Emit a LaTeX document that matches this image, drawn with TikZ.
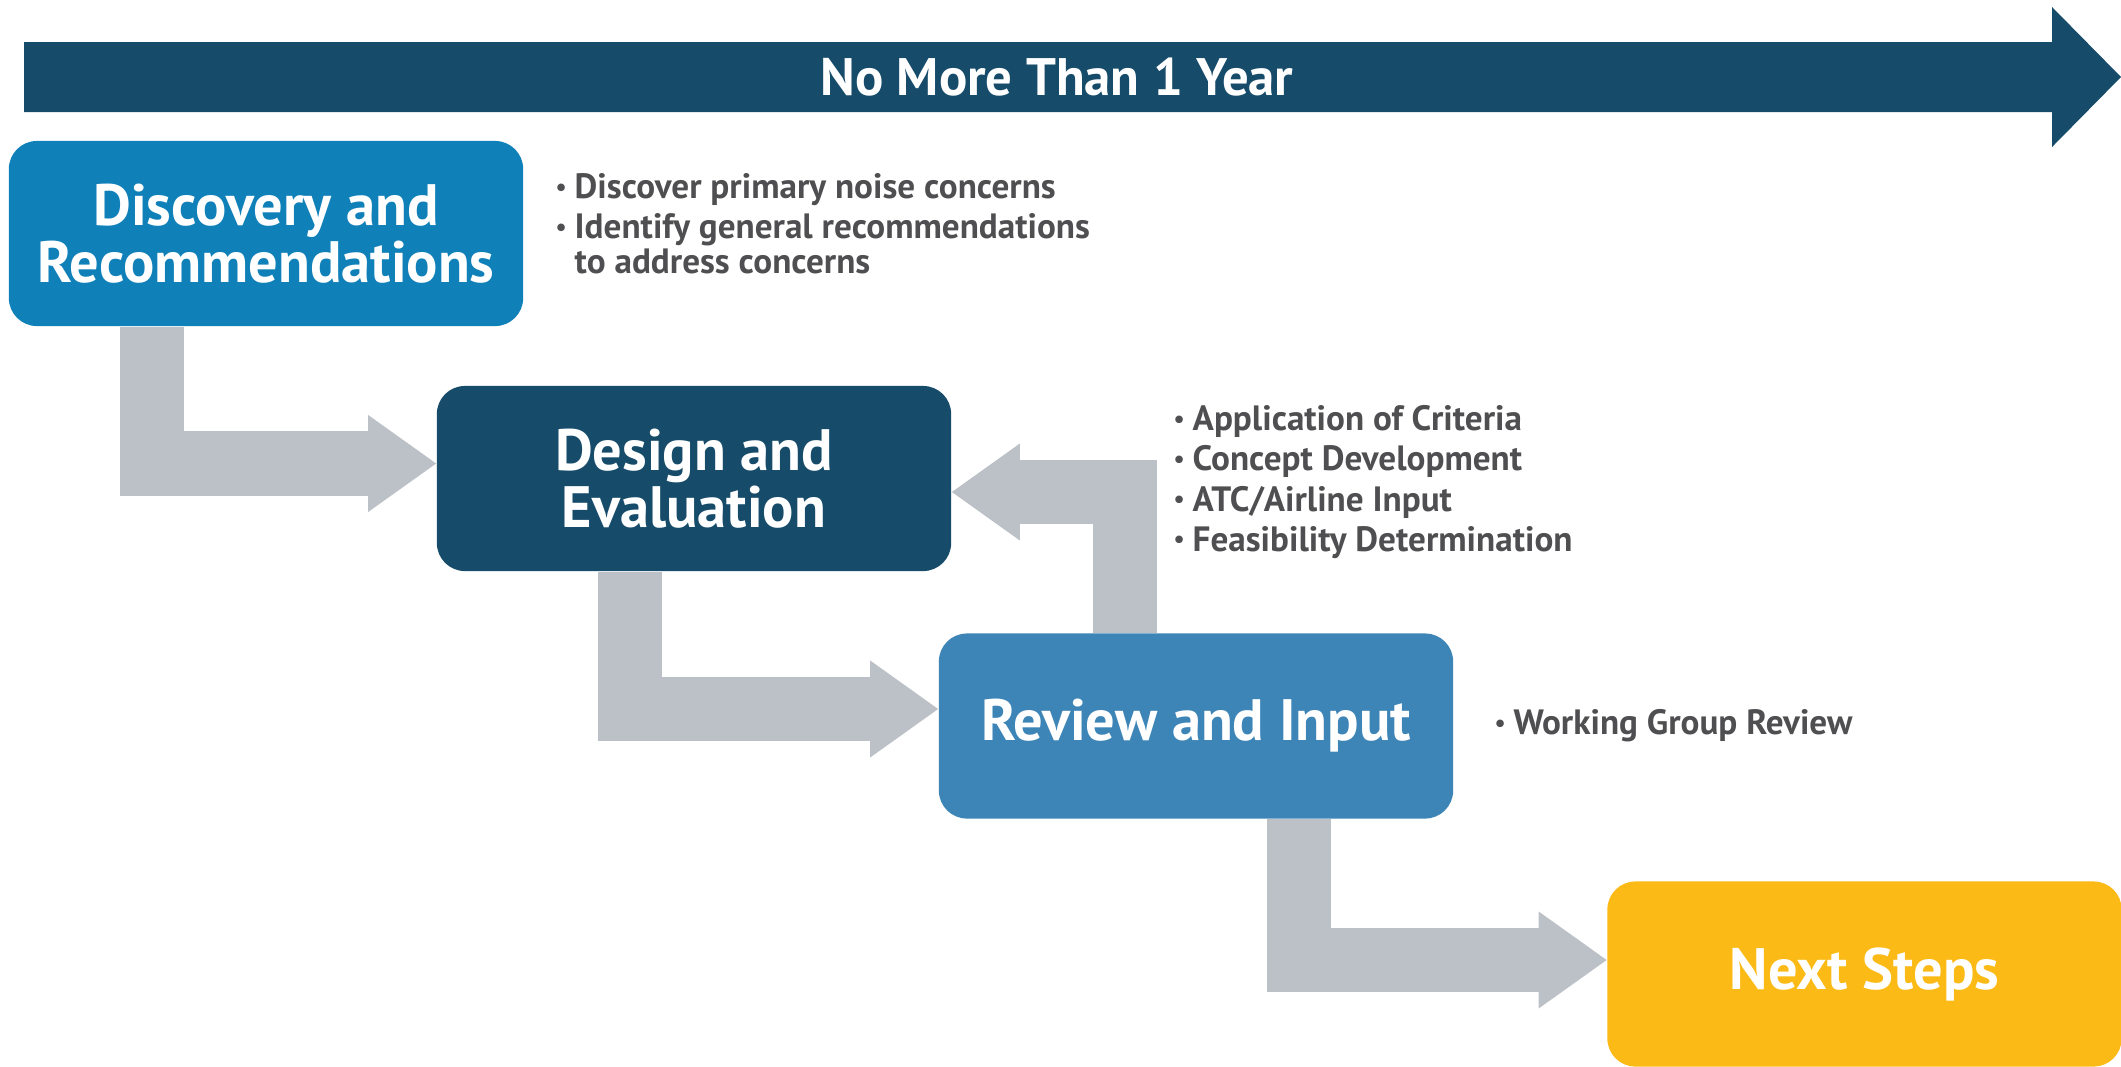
\documentclass[tikz,border=0pt]{standalone}
\usepackage{fontspec}
\setmainfont{PT Sans}
\usetikzlibrary{arrows.meta,positioning,calc}

\definecolor{navy}{HTML}{164B6A}
\definecolor{skyblue}{HTML}{1080B9}
\definecolor{midblue}{HTML}{3D85B7}
\definecolor{gold}{HTML}{FBBA16}
\definecolor{flowgray}{HTML}{BCC1C7}
\definecolor{notegray}{HTML}{4F4F51}

\newcommand{\bul}{\makebox[1.9mm][l]{\raisebox{0.9pt}{\fontsize{7}{7}\selectfont\textbullet}}}

\begin{document}
\begin{tikzpicture}[x=0.01cm, y=-0.01cm,
    stage/.style={rounded corners=0.28cm, minimum width=5.14cm, minimum height=1.85cm, inner sep=0pt,
      align=center, text=white, font=\bfseries\fontsize{16.6}{16.4}\selectfont},
    notes/.style={align=left, inner sep=0pt, text=notegray, font=\bfseries\fontsize{10}{9.8}\selectfont},
    flow/.style={draw=flowgray, line width=6.4mm, -{Triangle[length=6.8mm, width=9.7mm, line width=0pt]}}]
\useasboundingbox (0,0) rectangle (2121,1066);

% time span
\fill[navy] (24,42) -- (2052,42) -- (2052,7) -- (2121,77) -- (2052,147) -- (2052,112) -- (24,112) -- cycle;
\node[text=white, font=\bfseries\fontsize{15}{16}\selectfont] (span) at (1057,77) {No More Than 1 Year};

% stages
\node[stage, fill=skyblue] (disc) at (266,233.5) {Discovery and\\Recommendations};
\node[stage, fill=navy] (design) at (694,478.5) {Design and\\Evaluation};
\node[stage, fill=midblue] (review) at (1196,726) {\raisebox{-0.5mm}{Review and Input}};
\node[stage, fill=gold] (next) at (1864.5,974) {\raisebox{-0.4mm}{Next Steps}};

% flows
\draw[flow] ([xshift=-1.135cm]disc.south) |- ([yshift=1.5mm]design.west);
\draw[flow] ([xshift=-0.64cm]design.south) |- ([yshift=1.7mm]review.west);
\draw[flow] ([xshift=1.025cm]review.south) |- ([yshift=1.4mm]next.west);
\draw[flow] ([xshift=-0.705cm]review.north) |- ([yshift=-1.35mm]design.east);

% notes
\node[notes, anchor=north west] (discnotes) at (555,173)
  {\bul Discover primary noise concerns\\[1.6pt]
   \bul Identify general recommendations\\
   \hspace*{1.9mm}to address concerns};
\node[notes, anchor=north west] (designnotes) at (1173,405)
  {\bul Application of Criteria\\[1.6pt]
   \bul Concept Development\\[1.6pt]
   \bul ATC/Airline Input\\[1.6pt]
   \bul Feasibility Determination};
\node[notes, right=0.4cm of review] (reviewnotes) {\bul Working Group Review};
\end{tikzpicture}
\end{document}
